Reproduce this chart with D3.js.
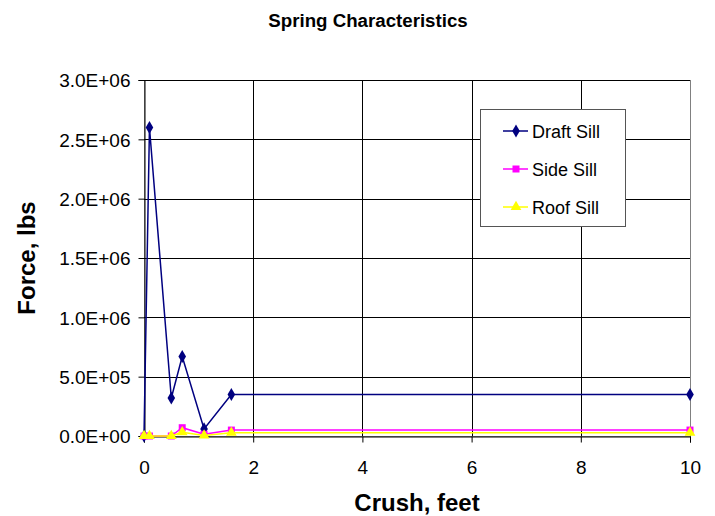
<!DOCTYPE html>
<html><head><meta charset="utf-8">
<script src="https://cdn.jsdelivr.net/npm/d3@7"></script>
<style>body{margin:0;background:#fff;}svg{display:block;font-family:"Liberation Sans",Arial,sans-serif;}</style>
</head><body><svg id="c" width="715" height="516"></svg>
<script>
const crush = [0, 0.1, 0.5, 0.7, 1.1, 1.6, 10];
const draftSill = [0, 2600000, 320000, 670000, 60000, 350000, 350000];
const sideSill = [0, 0, 0, 70000, 15000, 50000, 50000];
const roofSill = [0, 0, 0, 32000, 5000, 28000, 28000];
const xTicks = [0, 2, 4, 6, 8, 10];
const yTicks = [0, 500000, 1000000, 1500000, 2000000, 2500000, 3000000];
const seriesNames = ["Draft Sill", "Side Sill", "Roof Sill"];
const seriesColors = ["#000080", "#FF00FF", "#FFFF00"];

const svg = d3.select("#c");
const L = 144, R = 690, T = 80, B = 436;
const x = d3.scaleLinear().domain([0, 10]).range([L, R]);
const y = d3.scaleLinear().domain([0, 3000000]).range([B, T]);

// plot area
svg.append("rect").attr("x", L + 0.5).attr("y", T + 0.5).attr("width", R - L).attr("height", B - T)
  .attr("fill", "#fff").attr("stroke", "#808080").attr("stroke-width", 1);

// gridlines
svg.append("g").selectAll("line").data(yTicks.slice(1)).join("line")
  .attr("x1", L).attr("x2", R).attr("y1", d => Math.round(y(d)) + 0.5).attr("y2", d => Math.round(y(d)) + 0.5)
  .attr("stroke", "#000").attr("stroke-width", 1);
svg.append("g").selectAll("line").data(xTicks.slice(1, -1)).join("line")
  .attr("y1", T).attr("y2", B).attr("x1", d => Math.round(x(d)) + 0.5).attr("x2", d => Math.round(x(d)) + 0.5)
  .attr("stroke", "#000").attr("stroke-width", 1);

// axes
const fmt = d => {
  if (d === 0) return "0.0E+00";
  const e = Math.floor(Math.log10(d));
  const m = d / Math.pow(10, e);
  return m.toFixed(1) + "E+" + String(e).padStart(2, "0");
};
const yAxis = svg.append("g").attr("transform", `translate(${L + 0.5},0)`)
  .call(d3.axisLeft(y).tickValues(yTicks).tickFormat(fmt).tickSize(6).tickPadding(8));
const xAxis = svg.append("g").attr("transform", `translate(0,${B + 0.5})`)
  .call(d3.axisBottom(x).tickValues(xTicks).tickFormat(d3.format("d")).tickSize(6).tickPadding(18));
[yAxis, xAxis].forEach(a => {
  a.select(".domain").attr("stroke", "#000");
  a.selectAll(".tick line").attr("stroke", "#000");
  a.selectAll("text").style("font-size", "19px").attr("fill", "#000")
    .style("font-family", "'Liberation Sans',Arial,sans-serif");
});
yAxis.selectAll("text").attr("dy", "0.36em");

// series (first series drawn first, later ones on top)
const allSeries = [draftSill, sideSill, roofSill];
const line = d3.line().x(d => x(d[0])).y(d => y(d[1]));
const symbols = [d3.symbolDiamond, d3.symbolSquare, d3.symbolTriangle];
const symSizes = [50, 49, 50];
[0, 1, 2].forEach(i => {
  const pts = crush.map((c, j) => [c, allSeries[i][j]]);
  svg.append("path").datum(pts).attr("d", line).attr("fill", "none")
    .attr("stroke", seriesColors[i]).attr("stroke-width", 1.5);
  svg.append("g").selectAll("path").data(pts).join("path")
    .attr("transform", d => `translate(${x(d[0])},${y(d[1])})`)
    .attr("d", d3.symbol().type(symbols[i]).size(symSizes[i]))
    .attr("fill", seriesColors[i]);
});

// title & axis labels
svg.append("text").attr("x", 368).attr("y", 27).attr("text-anchor", "middle")
  .style("font-size", "18.7px").attr("font-weight", "bold").text("Spring Characteristics");
svg.append("text").attr("x", (L + R) / 2).attr("y", 511).attr("text-anchor", "middle")
  .style("font-size", "24px").attr("font-weight", "bold").text("Crush, feet");
svg.append("text").attr("transform", "translate(35,258) rotate(-90)").attr("text-anchor", "middle")
  .style("font-size", "24px").attr("font-weight", "bold").text("Force, lbs");

// legend
const lg = svg.append("g");
lg.append("rect").attr("x", 480.5).attr("y", 109.5).attr("width", 145).attr("height", 117)
  .attr("fill", "#fff").attr("stroke", "#555").attr("stroke-width", 1);
const rowsY = [131, 169, 207];
seriesNames.forEach((n, i) => {
  lg.append("line").attr("x1", 503).attr("x2", 528).attr("y1", rowsY[i]).attr("y2", rowsY[i])
    .attr("stroke", seriesColors[i]).attr("stroke-width", 1.5);
  lg.append("path").attr("transform", `translate(516,${rowsY[i]})`)
    .attr("d", d3.symbol().type(symbols[i]).size(symSizes[i])).attr("fill", seriesColors[i]);
  lg.append("text").attr("x", 532).attr("y", rowsY[i] + 6.5).style("font-size", "18px").text(n);
});
</script></body></html>
